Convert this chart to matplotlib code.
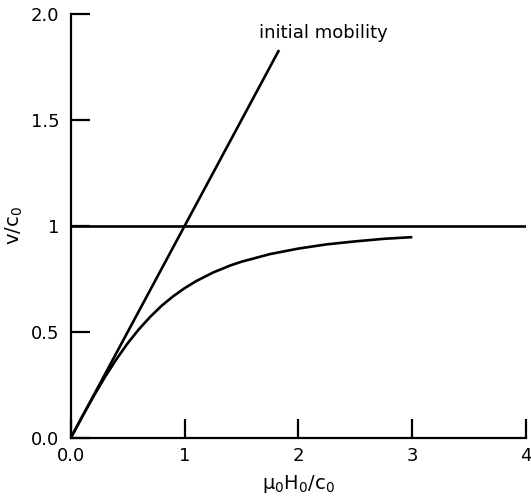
import matplotlib
matplotlib.use("Agg")
import matplotlib.pyplot as plt

# Data
mobility_x = [0.0, 1.83]
mobility_y = [0.0, 1.83]

limit_x = [0.0, 4.0]
limit_y = [1.0, 1.0]

curve_x = [0.0, 0.1, 0.2, 0.3, 0.4, 0.5, 0.6, 0.7, 0.8, 0.9, 1.0, 1.1, 1.25,
           1.4, 1.5, 1.75, 2.0, 2.25, 2.5, 2.75, 3.0]
curve_y = [0.0, 0.10, 0.196, 0.287, 0.371, 0.447, 0.514, 0.573, 0.625, 0.669,
           0.707, 0.740, 0.781, 0.814, 0.832, 0.868, 0.894, 0.914, 0.928,
           0.940, 0.948]

x_ticks = [0, 1, 2, 3, 4]
x_ticklabels = ["0.0", "1", "2", "3", "4"]
y_ticks = [0, 0.5, 1, 1.5, 2.0]
y_ticklabels = ["0.0", "0.5", "1", "1.5", "2.0"]

plt.rcParams['font.family'] = ['DejaVu Sans']
plt.rcParams['mathtext.default'] = 'regular'

fig = plt.figure(figsize=(5.31, 4.98), dpi=100)
ax = fig.add_axes([0.133, 0.12, 0.858, 0.852])

lw = 1.9
ax.plot(mobility_x, mobility_y, color="black", lw=lw, solid_capstyle="butt")
ax.plot(limit_x, limit_y, color="black", lw=lw, solid_capstyle="butt")
ax.plot(curve_x, curve_y, color="black", lw=lw, solid_capstyle="butt")

ax.set_xlim(0, 4)
ax.set_ylim(0, 2.0)
ax.set_xticks(x_ticks)
ax.set_xticklabels(x_ticklabels)
ax.set_yticks(y_ticks)
ax.set_yticklabels(y_ticklabels)

for s in ["top", "right"]:
    ax.spines[s].set_visible(False)
for s in ["left", "bottom"]:
    ax.spines[s].set_linewidth(1.6)
    ax.spines[s].set_color("black")

ax.tick_params(axis="both", direction="in", length=14, width=1.6,
               labelsize=13, colors="black", pad=6)
ax.tick_params(axis="y", pad=8)

ax.set_xlabel(r"$\mu_0 H_0/c_0$", fontsize=14, labelpad=6)
ax.set_ylabel(r"$v/c_0$", fontsize=14, labelpad=4)

ax.text(1.65, 1.87, "initial mobility", fontsize=13, ha="left", va="bottom")

fig.savefig("out.png", dpi=100)
